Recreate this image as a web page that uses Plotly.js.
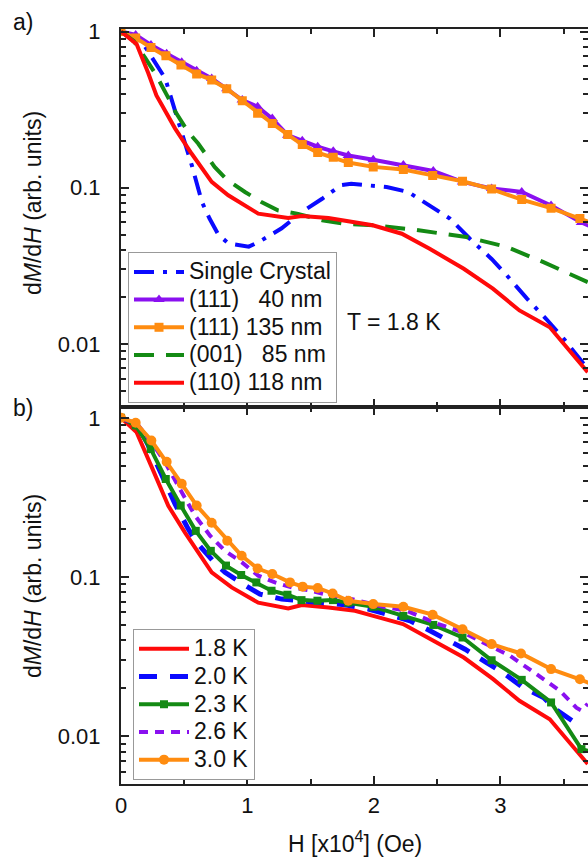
<!DOCTYPE html>
<html><head><meta charset="utf-8">
<script src="https://cdn.plot.ly/plotly-3.0.1.min.js"></script>
<style>html,body{margin:0;padding:0;background:#fff}#chart{width:588px;height:858px}</style>
</head><body><div id="chart"></div>
<script>
// ---------- Panel a) T = 1.8 K ----------
const scX = [0, 0.10, 0.19, 0.27, 0.35, 0.43, 0.48, 0.56, 0.64, 0.70, 0.77, 0.85, 1.01, 1.09, 1.27, 1.43, 1.59, 1.74, 1.82, 2.10, 2.27, 2.44, 2.60, 2.76, 2.93, 3.05, 3.21, 3.36, 3.50, 3.65, 3.70];
const scY = [1.0, 0.92, 0.80, 0.625, 0.50, 0.306, 0.228, 0.139, 0.081, 0.0635, 0.050, 0.044, 0.042, 0.045, 0.055, 0.070, 0.085, 0.104, 0.106, 0.101, 0.094, 0.077, 0.0635, 0.047, 0.035, 0.0275, 0.0195, 0.0145, 0.0108, 0.0076, 0.0068];

const p40X = [0, 0.116, 0.237, 0.361, 0.48, 0.598, 0.717, 0.836, 0.959, 1.08, 1.196, 1.318, 1.433, 1.555, 1.678, 1.797, 1.994, 2.232, 2.469, 2.70, 2.93, 3.168, 3.40, 3.64, 3.866];
const p40Y = [1.0, 0.95, 0.82, 0.72, 0.635, 0.56, 0.50, 0.43, 0.364, 0.33, 0.277, 0.217, 0.20, 0.183, 0.171, 0.161, 0.151, 0.140, 0.128, 0.109, 0.099, 0.094, 0.077, 0.060, 0.050];

const p135X = [0, 0.116, 0.237, 0.355, 0.474, 0.598, 0.717, 0.836, 0.959, 1.08, 1.196, 1.318, 1.433, 1.555, 1.678, 1.797, 1.994, 2.232, 2.464, 2.70, 2.93, 3.168, 3.40, 3.628, 3.866];
const p135Y = [1.0, 0.91, 0.79, 0.70, 0.61, 0.535, 0.49, 0.43, 0.36, 0.30, 0.258, 0.219, 0.189, 0.168, 0.157, 0.145, 0.136, 0.131, 0.12, 0.110, 0.098, 0.084, 0.074, 0.0635, 0.054];

const p85X = [0, 0.10, 0.19, 0.27, 0.37, 0.43, 0.53, 0.61, 0.74, 0.84, 0.98, 1.11, 1.24, 1.39, 1.59, 1.75, 2.00, 2.31, 2.73, 3.05, 3.34, 3.69];
const p85Y = [1.0, 0.87, 0.68, 0.54, 0.382, 0.306, 0.228, 0.192, 0.136, 0.112, 0.094, 0.081, 0.0717, 0.0683, 0.062, 0.059, 0.0575, 0.054, 0.0484, 0.0418, 0.0334, 0.0249];

const p118X = [0, 0.124, 0.216, 0.28, 0.322, 0.427, 0.559, 0.717, 0.848, 1.085, 1.322, 1.43, 1.64, 1.81, 1.99, 2.22, 2.44, 2.71, 2.94, 3.15, 3.39, 3.69];
const p118Y = [1.0, 0.83, 0.54, 0.39, 0.34, 0.24, 0.165, 0.109, 0.0895, 0.0683, 0.064, 0.066, 0.064, 0.061, 0.0575, 0.0508, 0.0407, 0.0303, 0.0226, 0.0164, 0.0128, 0.0066];

// ---------- Panel b) temperature series ----------
const t18X = [0, 0.124, 0.243, 0.374, 0.506, 0.717, 0.875, 1.085, 1.322, 1.43, 1.64, 1.85, 1.994, 2.23, 2.47, 2.71, 2.94, 3.15, 3.39, 3.69];
const t18Y = [1.0, 0.81, 0.49, 0.28, 0.19, 0.107, 0.086, 0.069, 0.0635, 0.0667, 0.0644, 0.0614, 0.057, 0.0506, 0.0398, 0.0312, 0.0229, 0.0167, 0.0128, 0.0067];

const t20X = [0, 0.137, 0.216, 0.295, 0.374, 0.427, 0.532, 0.598, 0.729, 0.822, 0.967, 1.099, 1.27, 1.428, 1.613, 1.771, 1.955, 2.074, 2.285, 2.417, 2.60, 2.72, 2.89, 3.02, 3.18, 3.34, 3.444, 3.60];
const t20Y = [1.0, 0.895, 0.67, 0.49, 0.357, 0.288, 0.20, 0.165, 0.126, 0.107, 0.090, 0.078, 0.0727, 0.071, 0.069, 0.067, 0.063, 0.059, 0.0531, 0.0471, 0.0398, 0.0352, 0.029, 0.0251, 0.0202, 0.0175, 0.0146, 0.0120];

const t23X = [0, 0.116, 0.235, 0.354, 0.472, 0.591, 0.71, 0.83, 0.95, 1.07, 1.19, 1.316, 1.427, 1.553, 1.676, 1.797, 1.995, 2.232, 2.469, 2.70, 2.93, 3.168, 3.40, 3.64, 3.866];
const t23Y = [1.0, 0.895, 0.638, 0.413, 0.281, 0.195, 0.146, 0.118, 0.103, 0.0925, 0.082, 0.0774, 0.0716, 0.071, 0.0716, 0.069, 0.065, 0.057, 0.050, 0.0417, 0.030, 0.0226, 0.0163, 0.0083, 0.0075];

const t26X = [0, 0.137, 0.243, 0.348, 0.466, 0.585, 0.704, 0.822, 0.954, 1.085, 1.217, 1.35, 1.48, 1.613, 1.771, 2.074, 2.258, 2.51, 2.706, 2.943, 3.075, 3.286, 3.47, 3.60, 3.64, 3.69];
const t26Y = [1.0, 0.895, 0.70, 0.526, 0.357, 0.243, 0.182, 0.146, 0.124, 0.102, 0.0925, 0.086, 0.0828, 0.078, 0.0744, 0.065, 0.0614, 0.0506, 0.0448, 0.036, 0.032, 0.0245, 0.0193, 0.0151, 0.0145, 0.0160];

const t30X = [0, 0.116, 0.24, 0.361, 0.48, 0.598, 0.717, 0.84, 0.954, 1.08, 1.196, 1.336, 1.436, 1.555, 1.673, 1.797, 1.994, 2.232, 2.464, 2.70, 2.93, 3.162, 3.40, 3.628, 3.866];
const t30Y = [1.0, 0.93, 0.72, 0.53, 0.385, 0.281, 0.219, 0.169, 0.136, 0.113, 0.1045, 0.0925, 0.087, 0.0854, 0.0788, 0.071, 0.0676, 0.065, 0.058, 0.047, 0.0379, 0.0331, 0.0264, 0.0228, 0.019];

// ---------- labels ----------
const namesA = ['Single Crystal', '(111)\u00a0\u00a0\u00a040 nm', '(111) 135 nm', '(001)\u00a0\u00a0\u00a085 nm', '(110) 118 nm'];
const namesB = ['1.8 K', '2.0 K', '2.3 K', '2.6 K', '3.0 K'];
const yTickVals = [0.01, 0.1, 1];
const yTickText = ['0.01', '0.1', '1'];
const xTickVals = [0, 1, 2, 3];

const FONT = 'Liberation Sans, Arial, sans-serif';
const C = {blue:'#0a0aff', purple:'#8a10f0', orange:'#ff8c10', green:'#148a14', red:'#ff0a0a'};
const nm = s => '<span style="font-size:23px">' + s + '</span>';

const minorY = [];
[0.001, 0.01, 0.1].forEach(d => { for (let k = 2; k <= 9; k++) minorY.push(+(k*d).toFixed(4)); });

const traces = [
  {x: scX, y: scY, xaxis:'x2', yaxis:'y2', mode:'lines', name: nm(namesA[0]), legend:'legend',
   line:{color:C.blue, width:4, dash:'20px,9px,4px,9px'}},
  {x: p40X, y: p40Y, xaxis:'x2', yaxis:'y2', mode:'lines+markers', name: nm(namesA[1]), legend:'legend',
   line:{color:C.purple, width:4}, marker:{symbol:'triangle-up', size:10, color:C.purple}},
  {x: p135X, y: p135Y, xaxis:'x2', yaxis:'y2', mode:'lines+markers', name: nm(namesA[2]), legend:'legend',
   line:{color:C.orange, width:4}, marker:{symbol:'square', size:9, color:C.orange}},
  {x: p85X, y: p85Y, xaxis:'x2', yaxis:'y2', mode:'lines', name: nm(namesA[3]), legend:'legend',
   line:{color:C.green, width:4, dash:'20px,12px'}},
  {x: p118X, y: p118Y, xaxis:'x2', yaxis:'y2', mode:'lines', name: nm(namesA[4]), legend:'legend',
   line:{color:C.red, width:4}},

  {x: t18X, y: t18Y, xaxis:'x', yaxis:'y', mode:'lines', name: nm(namesB[0]), legend:'legend2',
   line:{color:C.red, width:4}},
  {x: t20X, y: t20Y, xaxis:'x', yaxis:'y', mode:'lines', name: nm(namesB[1]), legend:'legend2',
   line:{color:C.blue, width:5, dash:'18px,13px'}},
  {x: t23X, y: t23Y, xaxis:'x', yaxis:'y', mode:'lines+markers', name: nm(namesB[2]), legend:'legend2',
   line:{color:C.green, width:4}, marker:{symbol:'square', size:8, color:C.green}},
  {x: t26X, y: t26Y, xaxis:'x', yaxis:'y', mode:'lines', name: nm(namesB[3]), legend:'legend2',
   line:{color:C.purple, width:4, dash:'9px,7px'}},
  {x: t30X, y: t30Y, xaxis:'x', yaxis:'y', mode:'lines+markers', name: nm(namesB[4]), legend:'legend2',
   line:{color:C.orange, width:4}, marker:{symbol:'circle', size:10, color:C.orange}}
];

const xCommon = {
  range:[0, 3.692], tickvals:xTickVals, ticks:'inside', ticklen:8, tickwidth:1.5, tickcolor:'#222',
  mirror:'ticks', showline:true, linewidth:2, linecolor:'#222', showgrid:false, zeroline:false,
  minor:{tickvals:[0.5,1.5,2.5,3.5], ticks:'inside', ticklen:5, tickwidth:1.5, tickcolor:'#222', showgrid:false},
  tickfont:{size:22, family:FONT, color:'#111'}, ticklabelstandoff:1
};
const yCommon = {
  type:'log', tickvals:yTickVals, ticktext:yTickText, ticks:'inside', ticklen:8, tickwidth:1.5, tickcolor:'#222',
  mirror:'ticks', showline:true, linewidth:2, linecolor:'#222', showgrid:false, zeroline:false,
  minor:{tickvals:minorY, ticks:'inside', ticklen:5, tickwidth:1.5, tickcolor:'#222', showgrid:false},
  tickfont:{size:22, family:FONT, color:'#111'}, ticklabelstandoff:14
};

const legendCommon = {xanchor:'left', yanchor:'top', bgcolor:'#fff', bordercolor:'#999', borderwidth:1,
  font:{size:19, family:FONT, color:'#111'}, itemwidth:50, tracegroupgap:0};

const ann = (text, x, y, extra) => Object.assign({text, xref:'paper', yref:'paper', x, y,
  xanchor:'center', yanchor:'middle', showarrow:false, font:{size:23, family:FONT, color:'#111'}}, extra || {});

const layout = {
  width:588, height:858, paper_bgcolor:'#fff', plot_bgcolor:'#fff',
  margin:{l:121, r:0, t:29, b:74},
  font:{family:FONT, color:'#111'},
  xaxis: Object.assign({}, xCommon, {anchor:'y', domain:[0,1]}),
  xaxis2: Object.assign({}, xCommon, {anchor:'y2', domain:[0,1], matches:'x', showticklabels:false}),
  yaxis: Object.assign({}, yCommon, {anchor:'x', domain:[0,0.5], range:[-2.30, 0.071]}),
  yaxis2: Object.assign({}, yCommon, {anchor:'x2', domain:[0.5,1], range:[-2.40, 0.016]}),
  legend: Object.assign({}, legendCommon, {x:0.015, y:0.7046}),
  legend2: Object.assign({}, legendCommon, {x:0.0257, y:0.2053}),
  showlegend:true,
  annotations:[
    ann('a)', (23-121)/467, 1-(22-29)/755),
    ann('b)', (23-121)/467, 1-(408-29)/755),
    ann('T = 1.8 K', (394-121)/467, 1-(322-29)/755),
    ann('d<i>M</i>/d<i>H</i> (arb. units)', (33-121)/467, 1-(203-29)/755, {textangle:-90}),
    ann('d<i>M</i>/d<i>H</i> (arb. units)', (33-121)/467, 1-(586-29)/755, {textangle:-90}),
    ann('H [x10<sup>4</sup>] (Oe)', (355-121)/467, 1-(842-29)/755)
  ]
};

Plotly.newPlot('chart', traces, layout, {displayModeBar:false, responsive:false});
</script>
</body></html>
